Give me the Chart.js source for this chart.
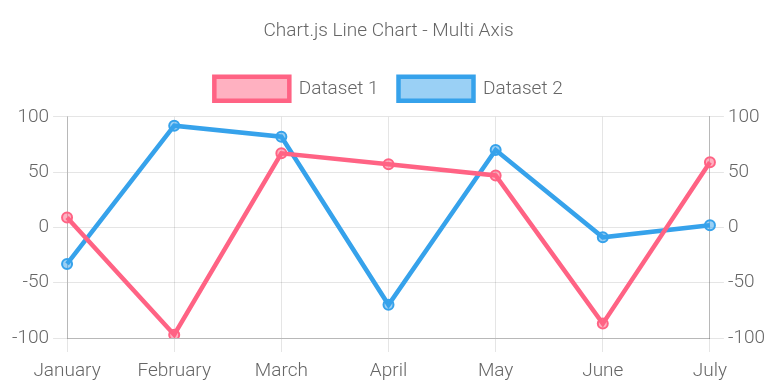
<!DOCTYPE html>
<html lang="en">
<head>
  <meta charset="UTF-8" />
  <title>Chart.js Line Chart - Multi Axis</title>
  <script src="https://cdn.jsdelivr.net/npm/chart.js"></script>
  <style>
    html, body {
      margin: 0;
      padding: 0;
      background: #fff;
    }
    .chart-box {
      width: 777px;
      height: 388px;
      position: relative;
    }
  </style>
</head>
<body>
  <div class="chart-box">
    <canvas id="multiAxisChart"></canvas>
  </div>

  <script>
    const months = ["January", "February", "March", "April", "May", "June", "July"];
    const dataset1 = [9, -97, 67, 57, 47, -87, 59];
    const dataset2 = [-33, 92, 82, -70, 70, -9, 2];

    Chart.defaults.font.family = "Roboto, 'Helvetica Neue', 'Liberation Sans', Arial, sans-serif";
    Chart.defaults.font.size = 19;
    Chart.defaults.font.weight = 300;
    Chart.defaults.color = '#666';

    // a bit of extra room under the legend
    const legendGap = {
      id: 'legendGap',
      beforeInit(chart) {
        if (!chart.legend) return;
        const fit = chart.legend.fit;
        chart.legend.fit = function () {
          fit.call(this);
          this.height += 6;
        };
      }
    };

    new Chart(document.getElementById("multiAxisChart"), {
      type: 'line',
      data: {
        labels: months,
        datasets: [
          {
            label: 'Dataset 1',
            data: dataset1,
            borderColor: 'rgb(255, 99, 132)',
            backgroundColor: 'rgba(255, 99, 132, 0.5)',
            borderWidth: 4.5,
            pointRadius: 5,
            pointBorderWidth: 2,
            yAxisID: 'y'
          },
          {
            label: 'Dataset 2',
            data: dataset2,
            borderColor: 'rgb(54, 162, 235)',
            backgroundColor: 'rgba(54, 162, 235, 0.5)',
            borderWidth: 4.5,
            pointRadius: 5,
            pointBorderWidth: 2,
            yAxisID: 'y1'
          }
        ]
      },
      options: {
        responsive: true,
        maintainAspectRatio: false,
        animation: false,
        layout: { padding: { left: 8, right: 8, top: 0, bottom: 3 } },
        plugins: {
          title: {
            display: true,
            text: 'Chart.js Line Chart - Multi Axis',
            font: { size: 19, weight: 300 },
            padding: { top: 20, bottom: 14 }
          },
          legend: {
            position: 'top',
            labels: {
              boxWidth: 75,
              boxHeight: 24,
              padding: 20
            }
          }
        },
        scales: {
          x: {
            grid: { color: 'rgba(0,0,0,0.1)', tickLength: 14 },
            border: { color: 'rgba(0,0,0,0.2)' },
            ticks: { padding: 8 },
            afterFit: (scale) => { scale.height = 47; }
          },
          y: {
            type: 'linear',
            position: 'left',
            min: -100,
            max: 100,
            ticks: { stepSize: 50, padding: 4 },
            border: { color: 'rgba(0,0,0,0.2)' },
            grid: { color: 'rgba(0,0,0,0.1)', tickLength: 14 }
          },
          y1: {
            type: 'linear',
            position: 'right',
            min: -100,
            max: 100,
            ticks: { stepSize: 50, padding: 4 },
            border: { color: 'rgba(0,0,0,0.2)' },
            grid: { drawOnChartArea: false, color: 'rgba(0,0,0,0.1)', tickLength: 14 }
          }
        }
      },
      plugins: [legendGap]
    });
  </script>
</body>
</html>
